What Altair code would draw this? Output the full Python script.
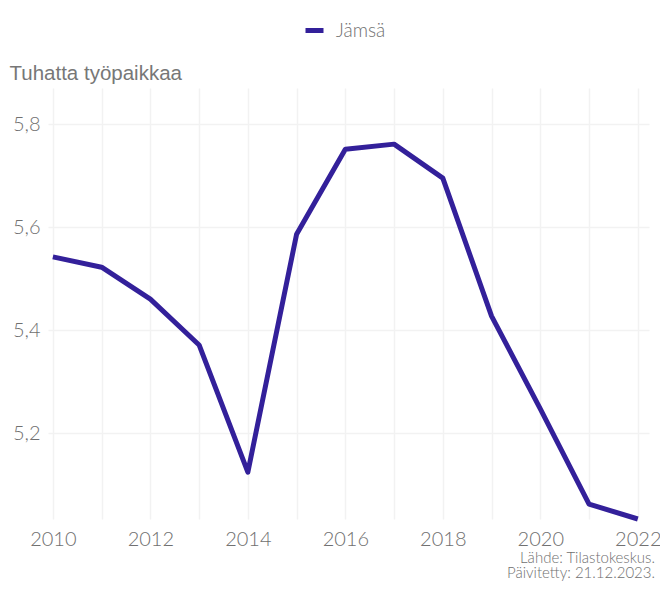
import altair as alt
import pandas as pd

years = [2010, 2011, 2012, 2013, 2014, 2015, 2016, 2017, 2018, 2019, 2020, 2021, 2022]
values = [5.542, 5.522, 5.460, 5.371, 5.124, 5.586, 5.751, 5.761, 5.695, 5.427, 5.247, 5.062, 5.033]
series = "Jämsä"
title_text = ["Tuhatta työpaikkaa"]
source_lines = ["Lähde: Tilastokeskus.", "Päivitetty: 21.12.2023."]

df = pd.DataFrame({"vuosi": years, "arvo": values, "alue": [series] * len(years)})
src = pd.DataFrame({"t": source_lines, "i": [0, 1]})
ttl = pd.DataFrame({"t": title_text})

W, H = 601, 431
LABEL_FONT = "Lato"
LW = 300
GRAY = "#707070"

line = alt.Chart(df).mark_line(strokeWidth=5, strokeJoin="round", strokeCap="butt").encode(
    x=alt.X("vuosi:Q", scale=alt.Scale(domain=[2009.9, 2022.23], nice=False, zero=False),
            axis=alt.Axis(values=years, title=None, grid=True, ticks=False, domain=False,
                          labelExpr="datum.value % 2 == 0 ? datum.value + '' : ''",
                          labelFontSize=20, labelFont=LABEL_FONT, labelFontWeight=LW, labelColor=GRAY,
                          labelPadding=10, gridColor="#f2f2f2", gridWidth=1.5,
                          labelFlush=False, labelOverlap=False)),
    y=alt.Y("arvo:Q", scale=alt.Scale(domain=[5.033, 5.870], nice=False, zero=False),
            axis=alt.Axis(values=[5.2, 5.4, 5.6, 5.8], title=None, grid=True, ticks=False, domain=False,
                          labelExpr="replace(format(datum.value, '.1f'), '.', ',')",
                          labelFontSize=20, labelFont=LABEL_FONT, labelFontWeight=LW, labelColor=GRAY,
                          labelPadding=8, gridColor="#f2f2f2", gridWidth=1.5)),
    color=alt.Color("alue:N", scale=alt.Scale(range=["#33209a"]),
                    legend=alt.Legend(title=None, orient="none", legendX=255, legendY=-69,
                                      symbolType="stroke", symbolStrokeWidth=5, symbolSize=324,
                                      labelFontSize=19, labelFont=LABEL_FONT, labelFontWeight=LW,
                                      labelColor=GRAY, labelOffset=10)),
)

source = alt.Chart(src).mark_text(align="right", baseline="alphabetic", fontSize=15,
                                  font=LABEL_FONT, fontWeight=LW, color=GRAY).encode(
    x=alt.value(W + 6),
    y=alt.Y("i:Q", scale=alt.Scale(domain=[0, 1], range=[475, 490]), axis=None),
    text="t:N",
)

title = alt.Chart(ttl).mark_text(align="left", baseline="alphabetic", fontSize=20.5,
                                 font="Liberation Sans", color="#777777").encode(
    x=alt.value(-38.5),
    y=alt.value(-8),
    text="t:N",
)

chart = alt.layer(line, source, title).properties(
    width=W, height=H,
    padding={"left": 40, "top": 80, "right": 11, "bottom": 63},
    autosize=alt.AutoSizeParams(type="none"),
).resolve_scale(y="independent").configure_view(stroke=None)

chart.save("out.html", embed_options={"renderer": "svg", "actions": False})
